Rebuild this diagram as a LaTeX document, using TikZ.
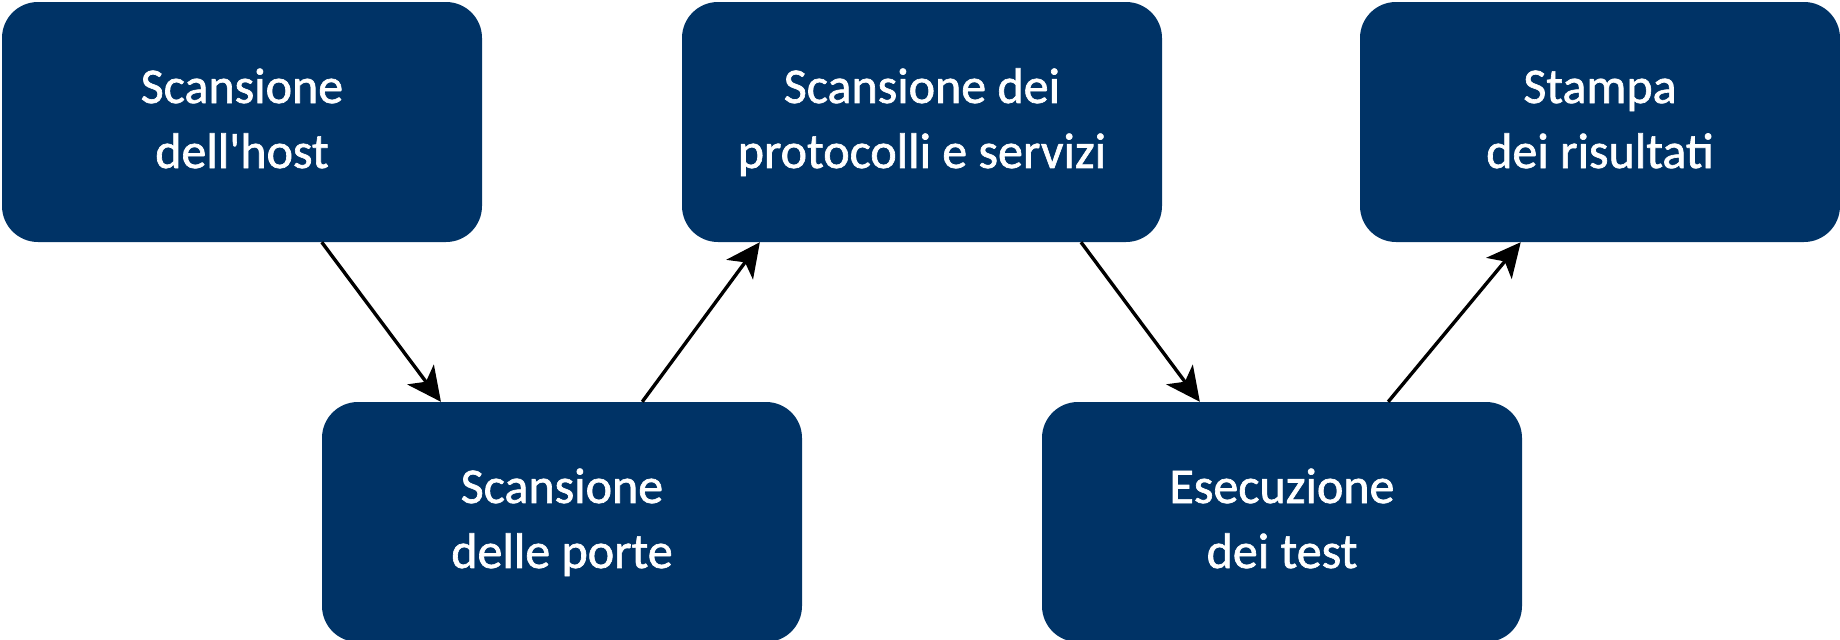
\documentclass[tikz,border=0pt]{standalone}
\usepackage{fontspec}
\setmainfont{Carlito}
\newfontfamily\boxfont{Carlito}[UprightFeatures={FakeBold=1.3}]
\usetikzlibrary{arrows.meta,calc}
\definecolor{navy}{RGB}{0,51,102}
\newcommand\boxtext[2]{\rule{0pt}{35pt}#1\\#2\rule[-8pt]{0pt}{8pt}}
\begin{document}
\begin{tikzpicture}[x=1pt,y=1pt,
  stepbox/.style={fill=navy, draw=none, rounded corners=36pt,
    minimum width=480pt, minimum height=240pt, inner sep=0pt,
    text=white, align=center, font=\boxfont\fontsize{50}{65}\selectfont},
  flow/.style={line width=3.4pt, -{Stealth[length=34pt,width=33pt,inset=9pt]}}]
\useasboundingbox (0,0) rectangle (1840,-640);
\node[stepbox] (b1) at (242,-122) {\boxtext{Scansione}{dell\textquotesingle host}};
\node[stepbox] (b2) at (562,-522) {\boxtext{Scansione}{delle porte}};
\node[stepbox] (b3) at (922,-122) {\boxtext{Scansione dei}{protocolli e servizi}};
\node[stepbox] (b4) at (1282,-522) {\boxtext{Esecuzione}{dei test}};
\node[stepbox] (b5) at (1600,-122) {\boxtext{Stampa}{dei risultati}};
\draw[flow] ($(b1.south west)!0.666!(b1.south east)$) -- ($(b2.north west)!0.248!(b2.north east)$);
\draw[flow] ($(b2.north west)!0.667!(b2.north east)$) -- ($(b3.south west)!0.1625!(b3.south east)$);
\draw[flow] ($(b3.south west)!0.831!(b3.south east)$) -- ($(b4.north west)!0.329!(b4.north east)$);
\draw[flow] ($(b4.north west)!0.721!(b4.north east)$) -- ($(b5.south west)!0.335!(b5.south east)$);
\end{tikzpicture}
\end{document}
